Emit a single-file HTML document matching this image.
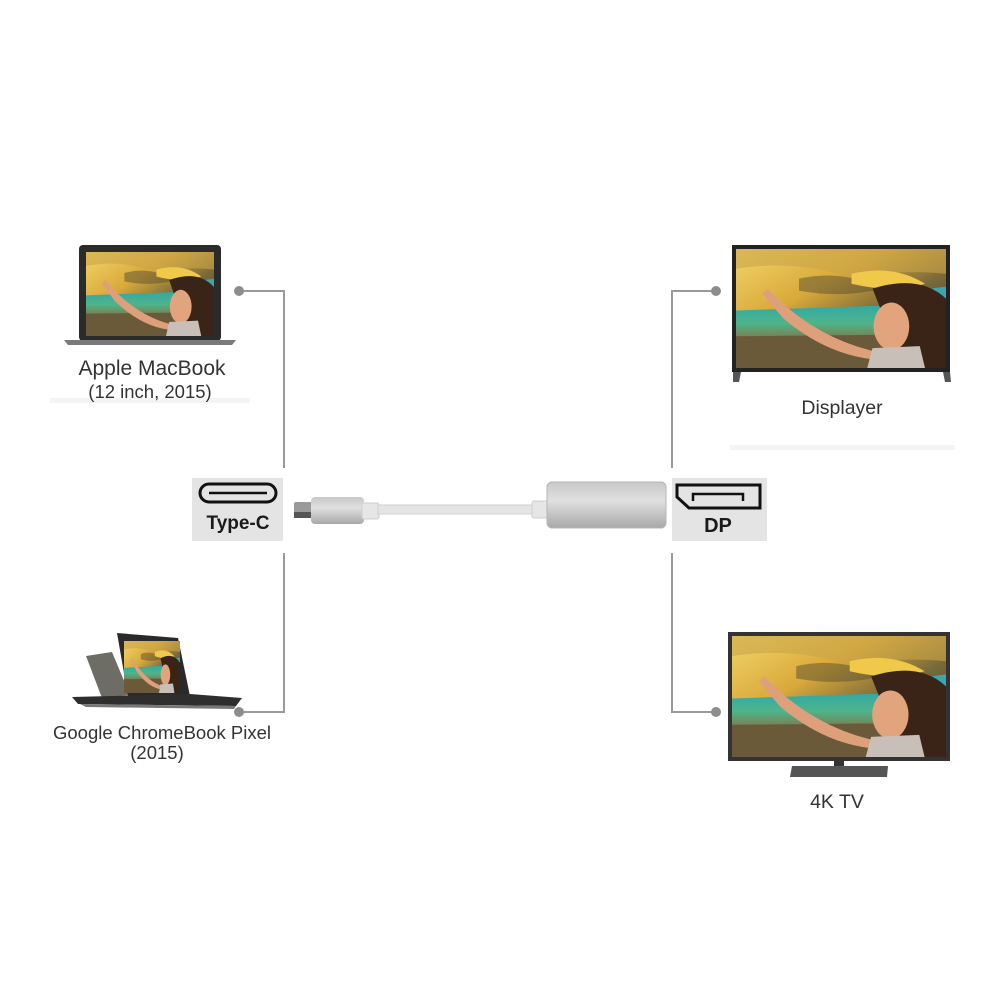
<!DOCTYPE html>
<html><head><meta charset="utf-8"><style>
html,body{margin:0;padding:0;background:#fff;}
svg{display:block;}
text{font-family:"Liberation Sans",sans-serif;fill:#333;}
</style></head><body>
<svg width="1000" height="1000" viewBox="0 0 1000 1000" xmlns="http://www.w3.org/2000/svg">
<defs>
<linearGradient id="sky" x1="0" y1="0" x2="1" y2="1">
<stop offset="0" stop-color="#f3d56a"/><stop offset="0.35" stop-color="#d9a93a"/><stop offset="0.6" stop-color="#7a6a3a"/><stop offset="1" stop-color="#3b3a2a"/>
</linearGradient>
<linearGradient id="sea" x1="0" y1="0" x2="0" y2="1">
<stop offset="0" stop-color="#2fa7a8"/><stop offset="0.5" stop-color="#4fb48a"/><stop offset="1" stop-color="#8a6a3a"/>
</linearGradient>
<linearGradient id="metal" x1="0" y1="0" x2="0" y2="1">
<stop offset="0" stop-color="#c8c8c8"/><stop offset="0.4" stop-color="#e0e0e0"/><stop offset="1" stop-color="#a8a8a8"/>
</linearGradient>
<symbol id="pic" viewBox="0 0 200 120" preserveAspectRatio="none">
<rect width="200" height="120" fill="url(#sky)"/>
<path d="M0 20 Q60 10 110 30 Q150 20 200 25 L200 0 L0 0Z" fill="#c9a54a" opacity="0.6"/>
<path d="M60 30 Q100 20 140 40 Q100 50 60 42Z" fill="#5a5030" opacity="0.5"/>
<path d="M110 25 Q150 15 180 35 Q150 45 110 35Z" fill="#f0c84a"/>
<path d="M150 45 L200 38 L200 62 L150 62Z" fill="#3aa6b0"/>
<path d="M0 62 L200 55 L200 95 L0 95Z" fill="url(#sea)"/>
<path d="M0 88 L200 86 L200 120 L0 120Z" fill="#6b5a3a"/>
<path d="M130 40 Q175 25 200 50 L200 120 L150 120 Q160 90 145 80Z" fill="#3a2418"/>
<ellipse cx="148" cy="78" rx="17" ry="24" fill="#e2a47c"/>
<path d="M30 40 L50 60 Q90 95 140 105 L140 112 Q90 110 45 70 L25 45Z" fill="#dea07a"/>
<path d="M130 100 L175 98 L180 120 L125 120Z" fill="#c8c0b8"/>
</symbol>
</defs>

<rect x="50" y="398" width="200" height="5" fill="#f4f4f4"/>
<rect x="730" y="445" width="225" height="5" fill="#f4f4f4"/>

<!-- MacBook -->
<rect x="79" y="245" width="142" height="96" rx="4" fill="#2b2b2b"/>
<use href="#pic" x="86" y="252" width="128" height="84"/>
<path d="M64 340 L236 340 L232 345 L68 345Z" fill="#7a7a7a"/>
<text x="152" y="375" font-size="21" text-anchor="middle">Apple MacBook</text>
<text x="150" y="398" font-size="18.5" text-anchor="middle">(12 inch, 2015)</text>

<!-- Chromebook -->
<path d="M86 656 L112 652 L130 695 L102 698Z" fill="#6d6d66"/>
<path d="M117 633 L178 638 L190 696 L128 696Z" fill="#2a2a2a"/>
<use href="#pic" x="124" y="641" width="56" height="52"/>
<path d="M72 697 L190 694 L242 698 L236 706 L78 704Z" fill="#2e2e2e"/>
<path d="M80 704 L236 706 L234 709 L86 707Z" fill="#777"/>
<text x="162" y="739" font-size="18.5" text-anchor="middle">Google ChromeBook Pixel</text>
<text x="157" y="759" font-size="18.5" text-anchor="middle">(2015)</text>

<g stroke="#9a9a9a" stroke-width="2" fill="none">
<path d="M239 291 H284 V468"/>
<path d="M284 553 V712 H239"/>
<path d="M716 291 H672 V468"/>
<path d="M672 553 V712 H716"/>
</g>
<g fill="#8d8d8d">
<circle cx="239" cy="291" r="5"/><circle cx="239" cy="712" r="5"/>
<circle cx="716" cy="291" r="5"/><circle cx="716" cy="712" r="5"/>
</g>

<rect x="192" y="478" width="91" height="63" fill="#e4e4e4"/>
<rect x="200" y="484" width="76" height="18" rx="9" fill="none" stroke="#111" stroke-width="3"/>
<line x1="209" y1="493" x2="267" y2="493" stroke="#111" stroke-width="2.5"/>
<text x="238" y="529" font-size="19" font-weight="bold" text-anchor="middle" style="fill:#1a1a1a">Type-C</text>

<rect x="672" y="478" width="95" height="63" fill="#e4e4e4"/>
<path d="M677 485 L760 485 L760 508 L689 508 L677 497Z" fill="none" stroke="#111" stroke-width="3"/>
<path d="M693 501 L693 494 L743 494 L743 501" fill="none" stroke="#111" stroke-width="2.5"/>
<text x="718" y="532" font-size="20" font-weight="bold" text-anchor="middle" style="fill:#1a1a1a">DP</text>

<rect x="294" y="502" width="20" height="16" rx="2" fill="#9a9a9a"/>
<rect x="294" y="512" width="20" height="6" fill="#555"/>
<rect x="311" y="497" width="53" height="27" rx="4" fill="url(#metal)"/>
<rect x="362" y="503" width="17" height="16" rx="2" fill="#e6e6e6" stroke="#cfcfcf"/>
<rect x="378" y="505" width="155" height="9" fill="#e4e4e4" stroke="#cfcfcf"/>
<rect x="532" y="501" width="17" height="17" rx="2" fill="#e6e6e6" stroke="#cfcfcf"/>
<rect x="547" y="482" width="119" height="46" rx="5" fill="url(#metal)" stroke="#b5b5b5"/>

<rect x="732" y="245" width="218" height="127" fill="#222"/>
<use href="#pic" x="736" y="249" width="210" height="119"/>
<path d="M733 372 L741 372 L739 382 L733 382Z" fill="#555"/>
<path d="M943 372 L950 372 L951 382 L945 382Z" fill="#555"/>
<text x="842" y="414" font-size="19.5" text-anchor="middle">Displayer</text>

<rect x="728" y="632" width="222" height="129" fill="#333"/>
<use href="#pic" x="732" y="636" width="214" height="121"/>
<rect x="834" y="761" width="10" height="6" fill="#333"/>
<path d="M792 766 L888 766 L887 777 L790 777Z" fill="#555"/>
<text x="837" y="808" font-size="19.5" text-anchor="middle">4K TV</text>
</svg>
</body></html>
